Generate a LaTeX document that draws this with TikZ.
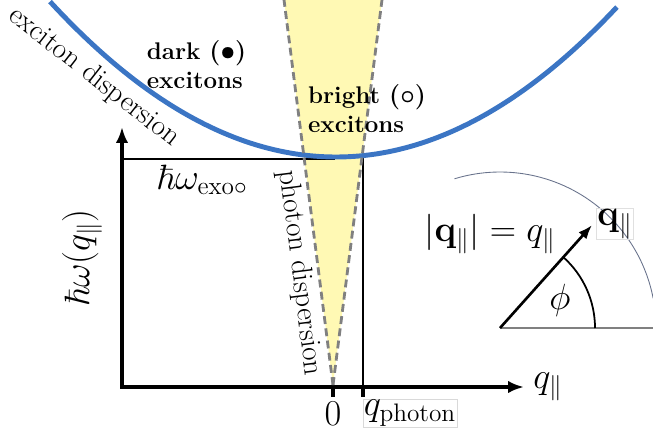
\documentclass[tikz,border=0pt]{standalone}
\usepackage{tikz}
\usetikzlibrary{arrows.meta,calc}
\usepackage{xcolor}
\usepackage{amsmath,amssymb}
\definecolor{dispblue}{RGB}{59,117,196}
\definecolor{conefill}{RGB}{255,249,180}
\definecolor{arcgray}{RGB}{105,115,140}

\begin{document}
\begin{tikzpicture}[
  axis/.style={line width=1.8pt, {Latex[length=9pt,width=7pt]}-{Latex[length=9pt,width=7pt]}},
  tickmark/.style={line width=1.8pt},
  guide/.style={line width=0.7pt},
  photon/.style={draw=gray, line width=1.6pt, dash pattern=on 4.5pt off 2.5pt},
  exciton/.style={draw=dispblue, line width=2.8pt},
  mathlbl/.style={font=\fontsize{20}{24}\selectfont, inner sep=1pt},
  curvelbl/.style={font=\fontsize{16.6}{19}\selectfont, inner sep=0pt},
  regionlbl/.style={font=\fontsize{13.7}{16.5}\selectfont\bfseries, align=left, inner sep=0pt},
]
  \useasboundingbox (-2.44,-1.12) rectangle (10.62,7.74);

  % light cone
  \coordinate (apex) at (4.22,0.04);
  \coordinate (coneL) at (3.22,7.9);
  \coordinate (coneR) at (5.22,7.9);
  \fill[conefill] (apex) -- (coneL) -- (coneR) -- cycle;

  % axes and guides
  \coordinate (o) at (0,0);
  \coordinate (ytip) at (0,5.2);
  \coordinate (xtip) at (8.04,0);
  \coordinate (emin) at (4.26,4.56);
  \coordinate (eaxis) at (0,4.56);
  \coordinate (t0) at (4.22,0);
  \coordinate (t0b) at (4.22,-0.2);
  \coordinate (tq) at (4.82,0);
  \coordinate (tqb) at (4.82,-0.2);
  \coordinate (tqc) at (4.82,4.62);
  \draw[guide] (eaxis) -- (emin);
  \draw[guide] (tq) -- (tqc);
  \draw[axis] (ytip) -- (o) -- (xtip);
  \draw[tickmark] (t0) -- (t0b);
  \draw[tickmark] (tq) -- (tqb);

  % dispersions
  \draw[exciton] plot[domain=-1.44:9.9, samples=100] (\x,{4.6+0.095*(\x-4.28)^2});
  \draw[photon] (apex) -- (coneL);
  \draw[photon] (apex) -- (coneR);

  \node[curvelbl, rotate=-38] (exclbl) at (-0.56,6.2) {exciton dispersion};
  \node[curvelbl, rotate=-82.8] (phlbl) at (3.56,2.28) {photon dispersion};
  \node[regionlbl] (dark) at (1.49,6.44) {dark {\boldmath$(\bullet)$}\\excitons};
  \node[regionlbl] (bright) at (4.9,5.56) {bright {\boldmath$(\circ)$}\\excitons};

  \node[mathlbl] (exo) at (1.6,4.14) {$\hbar\omega_{\mathrm{exo}\circ}$};
  \node[mathlbl, rotate=90] (ylbl) at (-0.8,2.58) {$\hbar\omega(q_{\parallel})$};
  \node[mathlbl] (xlbl) at (8.52,0) {$q_{\parallel}$};
  \node[mathlbl] (zero) at (4.22,-0.54) {$0$};
  \node[mathlbl, draw=black!15, line width=0.3pt, inner sep=0.5pt] (qph) at (5.76,-0.52) {$q_{\mathrm{photon}}$};

  % in-plane wave vector
  \coordinate (po) at (7.56,1.18);
  \coordinate (pend) at (10.62,1.18);
  \coordinate (qtip) at ($(po)+(48.2:2.76)$);
  \draw[gray, line width=0.6pt] (po) -- (pend);
  \draw[arcgray, line width=0.5pt] ($(po)+(107:3.12)$) arc[start angle=107, end angle=11, radius=3.12];
  \draw[line width=1pt] ($(po)+(1.9,0)$) arc[start angle=0, end angle=48.2, radius=1.9];
  \draw[line width=1.5pt, -{Latex[length=8pt,width=6pt]}] (po) -- (qtip);
  \node[mathlbl, draw=black!12, line width=0.3pt, inner sep=0.5pt] (qvec) at (9.86,3.26) {$\mathbf{q}_{\parallel}$};
  \node[mathlbl] (qmag) at (7.36,3.06) {$|\mathbf{q}_{\parallel}| = q_{\parallel}$};
  \node[mathlbl] (phi) at (8.76,1.74) {$\phi$};
\end{tikzpicture}
\end{document}
